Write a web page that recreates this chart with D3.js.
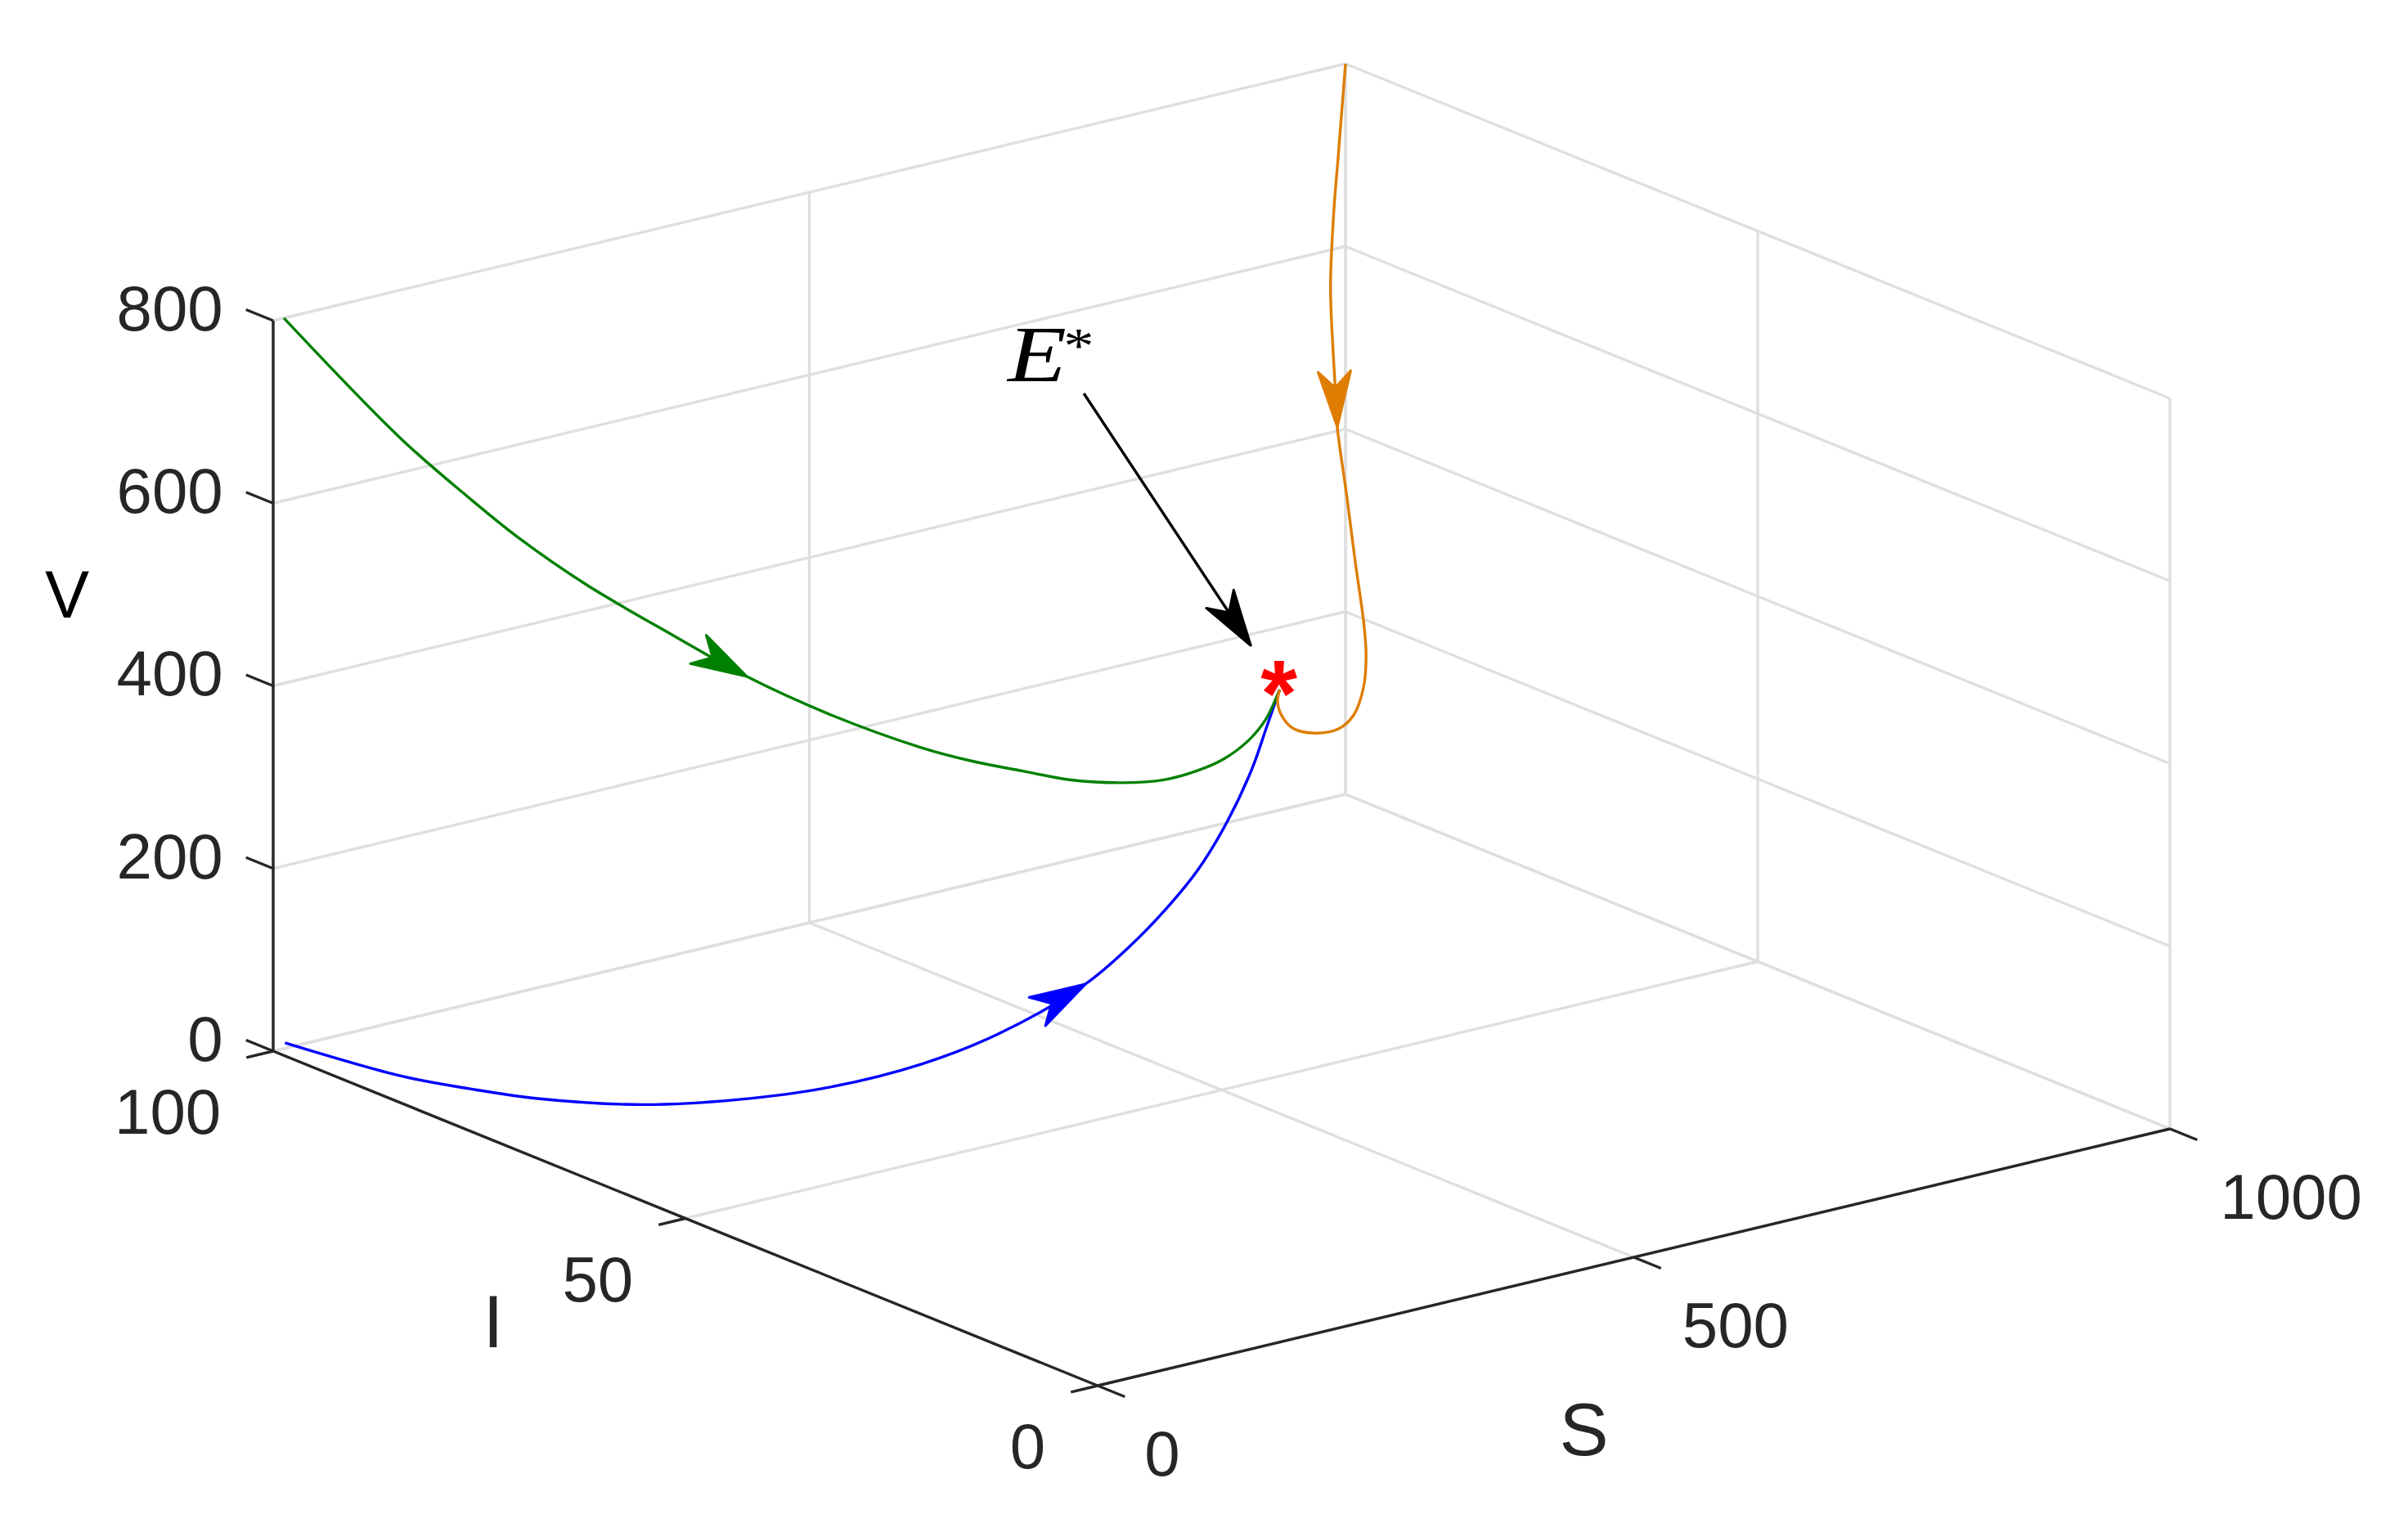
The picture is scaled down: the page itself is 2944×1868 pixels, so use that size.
<!DOCTYPE html>
<html>
<head>
<meta charset="utf-8">
<title>S I V trajectories</title>
<script src="https://cdn.jsdelivr.net/npm/d3@7"></script>
<style>
    html, body { margin: 0; padding: 0; background: #fff; }
    svg { display: block; }
    text { font-family: "Liberation Sans", sans-serif; fill: #262626; }
</style>
</head>
<body>
<div id="chart"></div>
<script>
// tick values per axis
const sTicks = [0, 500, 1000];
const iTicks = [0, 50, 100];
const vTicks = [0, 200, 400, 600, 800];

// equilibrium point E*, [S, I, V]
const equilibrium = [362, 25, 569];

// trajectories, [S, I, V]
const bluePath = [
    [11, 100, 6], [21, 87, 14], [29, 80, 24], [39, 73, 36], [52, 62, 66],
    [71, 53, 99], [96, 45, 135], [128, 38, 177], [161, 33, 219], [204, 28, 280],
    [237, 27, 315], [263, 26, 352], [294, 26, 388], [313, 25, 438], [336, 25, 489],
    [350, 25, 532], [362, 25, 569]
];
const greenPath = [
    [10, 100, 800], [27, 88, 707], [36, 81, 666], [44, 76, 638], [54, 69, 609],
    [67, 60, 582], [88, 54, 554], [111, 47, 532], [151, 41, 506], [176, 38, 495],
    [207, 36, 483], [229, 33, 478], [254, 30, 479], [277, 28, 483], [300, 27, 490],
    [318, 26, 502], [341, 26, 516], [349, 25, 540], [362, 25, 569]
];
const orangePath = [
    [1000, 100, 800], [955, 95, 733], [912, 90, 696], [863, 84, 653], [819, 78, 623],
    [783, 73, 602], [754, 69, 585], [709, 62, 548], [663, 55, 515], [625, 49, 479],
    [604, 46, 462], [571, 42, 451], [531, 38, 446], [486, 34, 458], [441, 31, 477],
    [398, 28, 505], [372, 26, 533], [360, 25, 556], [362, 25, 569]
];

// which point of each path carries the arrow head
const paths = [
    { name: 'blue', values: bluePath, color: '#0000ff', arrowAt: 9 },
    { name: 'green', values: greenPath, color: '#008000', arrowAt: 6 },
    { name: 'orange', values: orangePath, color: '#de7d00', arrowAt: 6 }
];

const W = 2944;
const H = 1868;
const strokeW = 3.4;

// orthographic view, pixel vectors of each full axis range
const corner = [1342, 1694];
const sVec = [1311, -314];
const iVec = [-1008, -409];
const vVec = [0, -893];

const sFrac = d3.scaleLinear().domain([0, 1000]).range([0, 1]);
const iFrac = d3.scaleLinear().domain([0, 100]).range([0, 1]);
const vFrac = d3.scaleLinear().domain([0, 800]).range([0, 1]);
const figX = d3.scaleLinear().domain([0, 1]).range([0, W]);
const figY = d3.scaleLinear().domain([0, 1]).range([0, H]);

function project([s, i, v]) {
    const a = sFrac(s);
    const b = iFrac(i);
    const c = vFrac(v);
    return [
        corner[0] + a * sVec[0] + b * iVec[0] + c * vVec[0],
        corner[1] + a * sVec[1] + b * iVec[1] + c * vVec[1]
    ];
}

const svg = d3.select('#chart').append('svg')
    .attr('width', W)
    .attr('height', H)
    .attr('viewBox', `0 0 ${W} ${H}`);

const line3 = d3.line()
    .x((d) => project(d)[0])
    .y((d) => project(d)[1]);

function segment(g, from, to, color) {
    g.append('path')
        .attr('d', line3([from, to]))
        .attr('fill', 'none')
        .attr('stroke', color)
        .attr('stroke-width', strokeW);
}

// grid on the floor and the two back walls
const grid = svg.append('g').attr('class', 'grid');
const gridColor = '#dfdfdf';
vTicks.forEach((v) => {
    segment(grid, [0, 100, v], [1000, 100, v], gridColor);
    segment(grid, [1000, 100, v], [1000, 0, v], gridColor);
});
sTicks.forEach((s) => {
    segment(grid, [s, 100, 0], [s, 100, 800], gridColor);
    segment(grid, [s, 0, 0], [s, 100, 0], gridColor);
});
iTicks.forEach((i) => {
    segment(grid, [1000, i, 0], [1000, i, 800], gridColor);
    segment(grid, [0, i, 0], [1000, i, 0], gridColor);
});

// axes
const axes = svg.append('g').attr('class', 'axes');
const axisColor = '#262626';
segment(axes, [0, 100, 0], [0, 100, 800], axisColor);
segment(axes, [0, 100, 0], [0, 0, 0], axisColor);
segment(axes, [0, 0, 0], [1000, 0, 0], axisColor);

const tickFont = 78;
function tickLabel(x, y, anchor, text) {
    axes.append('text')
        .attr('x', x)
        .attr('y', y)
        .attr('dy', '0.35em')
        .attr('text-anchor', anchor)
        .style('font-size', `${tickFont}px`)
        .text(text);
}

vTicks.forEach((v) => {
    segment(axes, [0, 100, v], [0, 103.3, v], axisColor);
    const [x, y] = project([0, 103.3, v]);
    tickLabel(x - 28, y - 2, 'end', v);
});
iTicks.forEach((i) => {
    segment(axes, [0, i, 0], [-25, i, 0], axisColor);
    const [x, y] = project([-25, i, 0]);
    tickLabel(x - 31, y + 66, 'end', i);
});
sTicks.forEach((s) => {
    segment(axes, [s, 0, 0], [s, -3.3, 0], axisColor);
    const [x, y] = project([s, -3.3, 0]);
    tickLabel(x + 24 + sFrac(s) * 4, y + 69, 'start', s);
});

// axis labels
[
    { text: 'S', at: [500, 0, 0], dx: -61, dy: 210, size: 90, color: '#262626' },
    { text: 'I', at: [0, 50, 0], dx: -235, dy: 126, size: 90, color: '#262626' },
    { text: 'V', at: [0, 100, 400], dx: -252, dy: -112, size: 81, color: '#000' }
].forEach((d) => {
    const [x, y] = project(d.at);
    axes.append('text')
        .attr('x', x + d.dx)
        .attr('y', y + d.dy)
        .attr('dy', '0.35em')
        .attr('text-anchor', 'middle')
        .style('font-size', `${d.size}px`)
        .style('fill', d.color)
        .text(d.text);
});

// arrow with a swept back head, tip and direction in pixels
const arrowLine = d3.line();
function arrowHead(g, tip, from, color) {
    const dx = tip[0] - from[0];
    const dy = tip[1] - from[1];
    const len = Math.hypot(dx, dy);
    const ux = dx / len;
    const uy = dy / len;
    const at = (back, side) => [
        tip[0] - ux * back - uy * side,
        tip[1] - uy * back + ux * side
    ];
    g.append('path')
        .attr('d', arrowLine([at(0, 0), at(68, 20), at(48, 0), at(68, -20)]) + 'Z')
        .attr('fill', color)
        .attr('stroke', color)
        .attr('stroke-width', 3)
        .attr('stroke-linejoin', 'round');
}

const lines = svg.append('g').attr('class', 'paths');
paths.forEach((p) => {
    lines.append('path')
        .attr('d', line3.curve(d3.curveCatmullRom.alpha(0.5))(p.values))
        .attr('fill', 'none')
        .attr('stroke', p.color)
        .attr('stroke-width', strokeW);
    arrowHead(lines, project(p.values[p.arrowAt]), project(p.values[p.arrowAt - 1]), p.color);
});

// annotation arrow, in figure fractions
const noteTail = [0.4501, 0.2575];
const noteTip = [0.5194, 0.4224];
const tail = [figX(noteTail[0]), figY(noteTail[1])];
const tip = [figX(noteTip[0]), figY(noteTip[1])];
svg.append('path')
    .attr('d', arrowLine([tail, tip]))
    .attr('stroke', '#000')
    .attr('stroke-width', strokeW);
arrowHead(svg, tip, tail, '#000');

// E* label
const note = svg.append('text')
    .attr('transform', `translate(${figX(0.4185)},${figY(0.2495)}) scale(1.2,1)`)
    .style('font-family', '"Liberation Serif", serif')
    .style('fill', '#000');
note.append('tspan')
    .style('font-style', 'italic')
    .style('font-size', '98px')
    .text('E');
note.append('tspan')
    .attr('dy', -23)
    .attr('dx', -3)
    .style('font-size', '62px')
    .text('*');

// equilibrium marker
const eq = project(equilibrium);
svg.append('text')
    .attr('x', eq[0] - 1)
    .attr('y', eq[1] + 44)
    .attr('text-anchor', 'middle')
    .style('font-size', '115px')
    .style('font-weight', 'bold')
    .style('fill', '#ff0000')
    .text('*');
</script>
</body>
</html>
